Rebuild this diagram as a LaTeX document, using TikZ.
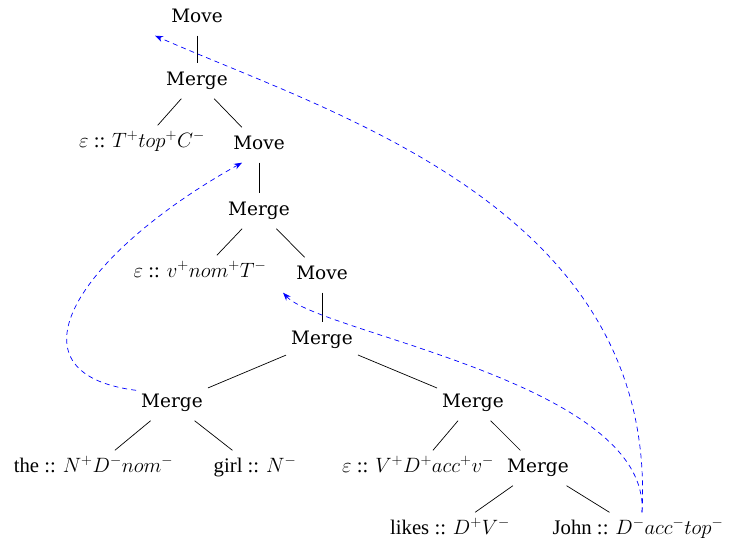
\documentclass[tikz,border=0pt]{standalone}
\usepackage{fontspec}
\setmainfont{Liberation Serif}
\newfontfamily\opfont{DejaVu Serif}
\usetikzlibrary{arrows.meta}
\begin{document}
\begin{tikzpicture}[x=1pt,y=-1pt,
  tn/.style={font=\fontsize{20.74}{25}\selectfont, inner xsep=5pt, inner ysep=8pt, text height=14pt, text depth=5pt},
  op/.style={tn, font=\fontsize{18.5}{23}\selectfont\opfont},
  edge/.style={draw=black, line width=0.7pt},
  mvarrow/.style={draw=blue, line width=0.7pt, dash pattern=on 5pt off 4pt, -{Stealth[length=8pt,width=6pt]}}]
\useasboundingbox (0,0) rectangle (735,544);
\begin{scope}[yshift=-3pt]
\node[op] (mv1) at (197,15) {Move};
\node[op] (mg1) at (197,78) {Merge};
\node[tn] (e1) at (142,140) {$\varepsilon$ :: $T^+top^+C^-$};
\node[op] (mv2) at (259,142) {Move};
\node[op] (mg2) at (259,208) {Merge};
\node[tn] (e2) at (200,270) {$\varepsilon$ :: $v^+nom^+T^-$};
\node[op] (mv3) at (322,272) {Move};
\node[op] (mg3) at (322,337) {Merge};
\node[op] (mg4) at (172,400) {Merge};
\node[op] (mg5) at (473,400) {Merge};
\node[tn] (the) at (93.5,465) {the :: $N^+D^-nom^-$};
\node[tn] (girl) at (255,465) {girl :: $N^-$};
\node[tn] (e3) at (418,465) {$\varepsilon$ :: $V^+D^+acc^+v^-$};
\node[op] (mg6) at (538,465) {Merge};
\node[tn] (likes) at (450,527) {likes :: $D^+V^-$};
\node[tn] (john) at (638,527) {John :: $D^-acc^-top^-$};
\foreach \a/\b in {mv1/mg1, mg1/e1, mg1/mv2, mv2/mg2, mg2/e2, mg2/mv3, mv3/mg3, mg3/mg4, mg3/mg5, mg4/the, mg4/girl, mg5/e3, mg5/mg6, mg6/likes, mg6/john}
  \draw[edge] (\a) -- (\b);
\draw[mvarrow] ([xshift=4pt]john.north) .. controls (658,205) and (330,110) .. ([xshift=-11pt]mv1.south west);
\draw[mvarrow] ([xshift=4pt]john.north) .. controls (650,380) and (320,330) .. ([xshift=-8pt]mv3.south west);
\draw[mvarrow] ([yshift=-5pt]mg4.north west) .. controls (0,370) and (80,250) .. ([xshift=-17pt]mv2.south);
\end{scope}
\end{tikzpicture}
\end{document}
